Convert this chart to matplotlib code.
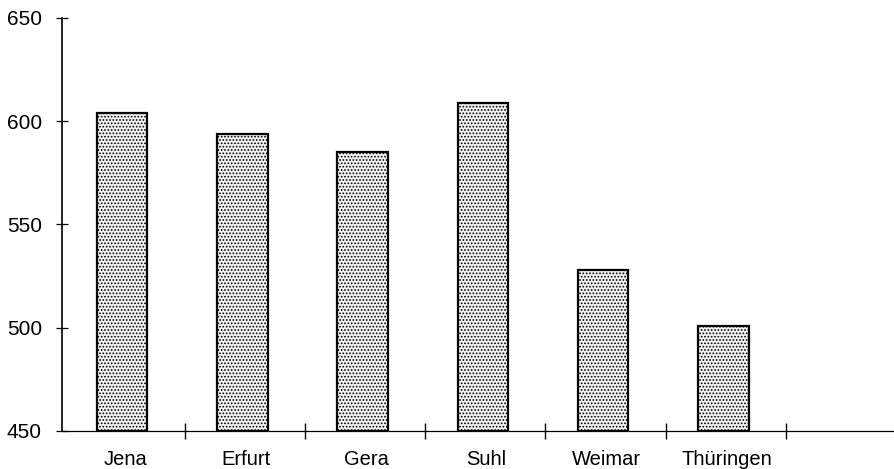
import matplotlib
matplotlib.use("Agg")
import matplotlib.pyplot as plt
import numpy as np

categories = ["Jena", "Erfurt", "Gera", "Suhl", "Weimar", "Thüringen"]
values = [604, 594, 585, 609, 528, 501]
yticks = [450, 500, 550, 600, 650]

plt.rcParams['font.family'] = ['Liberation Sans', 'DejaVu Sans']
plt.rcParams['hatch.linewidth'] = 0.8
plt.rcParams['hatch.color'] = '#333333'

fig = plt.figure(figsize=(8.94, 4.69), dpi=100)
ax = fig.add_axes([62/894, 38/469, 1 - 62/894, (431-18)/469])

x = np.arange(len(categories))
ax.bar(x, np.array(values) - 450, bottom=450, width=0.42,
       facecolor='#f2f2f2', edgecolor='black', linewidth=1.6,
       hatch='.....', zorder=3)

ax.set_ylim(450, 650)
ax.set_xlim(-0.5, 6.42)
ax.set_yticks(yticks)
ax.set_yticklabels([str(t) for t in yticks], fontsize=15)
ax.set_xticks(np.arange(len(categories)) + 0.52)
ax.set_xticklabels([])
for xi, c in zip(x, categories):
    ax.text(xi + 0.03, 433.5, c, ha='center', va='baseline', fontsize=14.5,
            transform=ax.transData, clip_on=False)

for s in ['top', 'right']:
    ax.spines[s].set_visible(False)
ax.spines['left'].set_linewidth(1.2)
ax.spines['bottom'].set_linewidth(0.9)
ax.tick_params(axis='y', direction='inout', length=9, width=0.9, pad=10)
ax.tick_params(axis='x', direction='inout', length=11, width=1.0)

fig.savefig("out.png", dpi=100)
